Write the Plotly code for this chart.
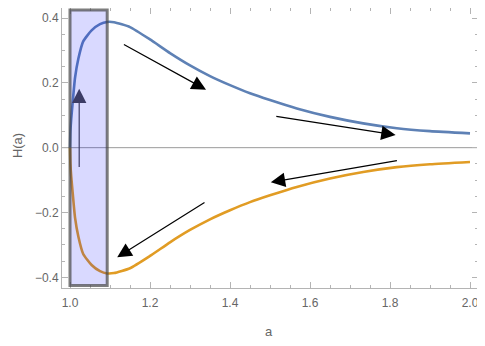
import plotly.graph_objects as go

# Data
a_vals = [1.000, 1.001, 1.003, 1.006, 1.0125, 1.021, 1.033, 1.054, 1.075, 1.093,
          1.11, 1.15, 1.2, 1.25, 1.3, 1.35, 1.4, 1.45, 1.5, 1.567, 1.65, 1.733,
          1.817, 1.9, 2.0]
h_upper = [0.000, 0.050, 0.088, 0.130, 0.215, 0.275, 0.328, 0.362, 0.381, 0.388,
           0.387, 0.372, 0.334, 0.292, 0.254, 0.221, 0.193, 0.168, 0.147, 0.121,
           0.095, 0.075, 0.060, 0.051, 0.044]
h_lower = [-0.000, -0.050, -0.088, -0.130, -0.215, -0.275, -0.328, -0.362, -0.381, -0.388,
           -0.387, -0.372, -0.334, -0.292, -0.254, -0.221, -0.193, -0.168, -0.147, -0.121,
           -0.095, -0.075, -0.060, -0.051, -0.044]

x_ticks = [1.0, 1.2, 1.4, 1.6, 1.8, 2.0]
x_tick_labels = ["1.0", "1.2", "1.4", "1.6", "1.8", "2.0"]
y_ticks = [-0.4, -0.2, 0.0, 0.2, 0.4]
y_tick_labels = ["\u22120.4", "\u22120.2", "0.0", "0.2", "0.4"]

# arrows: (tail_a, tail_h, head_a, head_h)
arrows = [
    (1.131, 0.321, 1.340, 0.179),
    (1.512, 0.0975, 1.814, 0.039),
    (1.821, -0.039, 1.502, -0.107),
    (1.340, -0.166, 1.118, -0.338),
]
up_arrow = (1.023, -0.064, 1.023, 0.182)

box_a = [1.0, 1.093]
box_h = [-0.425, 0.425]

FONT = "Liberation Sans, Arial, sans-serif"

fig = go.Figure()
fig.add_trace(go.Scatter(x=a_vals, y=h_upper, mode="lines",
                         line=dict(color="rgb(94,129,181)", width=2.6, shape="spline", smoothing=0.5),
                         showlegend=False, hoverinfo="skip"))
fig.add_trace(go.Scatter(x=a_vals, y=h_lower, mode="lines",
                         line=dict(color="rgb(225,156,36)", width=2.6, shape="spline", smoothing=0.5),
                         showlegend=False, hoverinfo="skip"))

fig.add_shape(type="line", xref="paper", x0=0, x1=1, yref="y", y0=0, y1=0,
              line=dict(color="#9a9a9a", width=1), layer="below")
fig.add_shape(type="rect", xref="x", yref="y", x0=box_a[0], x1=box_a[1], y0=box_h[0], y1=box_h[1],
              fillcolor="rgba(0,0,255,0.15)", line=dict(color="rgba(70,70,70,0.7)", width=3),
              layer="above")

for ta, th, ha, hh in arrows:
    fig.add_annotation(x=ha, y=hh, ax=ta, ay=th, xref="x", yref="y", axref="x", ayref="y",
                       showarrow=True, arrowhead=2, arrowsize=2.4, arrowwidth=1.2,
                       arrowcolor="black", text="")
ta, th, ha, hh = up_arrow
fig.add_annotation(x=ha, y=hh, ax=ta, ay=th, xref="x", yref="y", axref="x", ayref="y",
                   showarrow=True, arrowhead=2, arrowsize=2.4, arrowwidth=1.2,
                   arrowcolor="#3c3c66", text="")

# axis titles
fig.add_annotation(text="H(a)", xref="paper", yref="paper", x=-0.108, y=0.507,
                   showarrow=False, textangle=-90, xanchor="center", yanchor="middle",
                   font=dict(size=13, color="#666666", family=FONT))
fig.add_annotation(text="a", xref="paper", yref="paper", x=0.4976, y=-0.157,
                   showarrow=False, xanchor="center", yanchor="middle",
                   font=dict(size=13, color="#666666", family=FONT))

axis_common = dict(showgrid=False, zeroline=False, showline=True, linecolor="#b4b4b4",
                   linewidth=1, mirror="ticks", ticks="inside", ticklen=6, tickcolor="#b4b4b4",
                   automargin=False,
                   tickfont=dict(size=12, color="#666666", family=FONT))

fig.update_xaxes(range=[0.98, 2.02], tickvals=x_ticks, ticktext=x_tick_labels,
                 minor=dict(dtick=0.05, tick0=1.0, ticks="inside", ticklen=3, tickcolor="#b4b4b4"),
                 ticklabelstandoff=4,
                 **axis_common)
fig.update_yaxes(range=[-0.433, 0.431], tickvals=y_ticks, ticktext=y_tick_labels,
                 minor=dict(dtick=0.05, tick0=0.0, ticks="inside", ticklen=3, tickcolor="#b4b4b4"),
                 **axis_common)

fig.update_layout(width=477, height=338, margin=dict(l=54, r=7, t=0, b=58),
                  plot_bgcolor="white", paper_bgcolor="white")

fig.write_html("out.html")
